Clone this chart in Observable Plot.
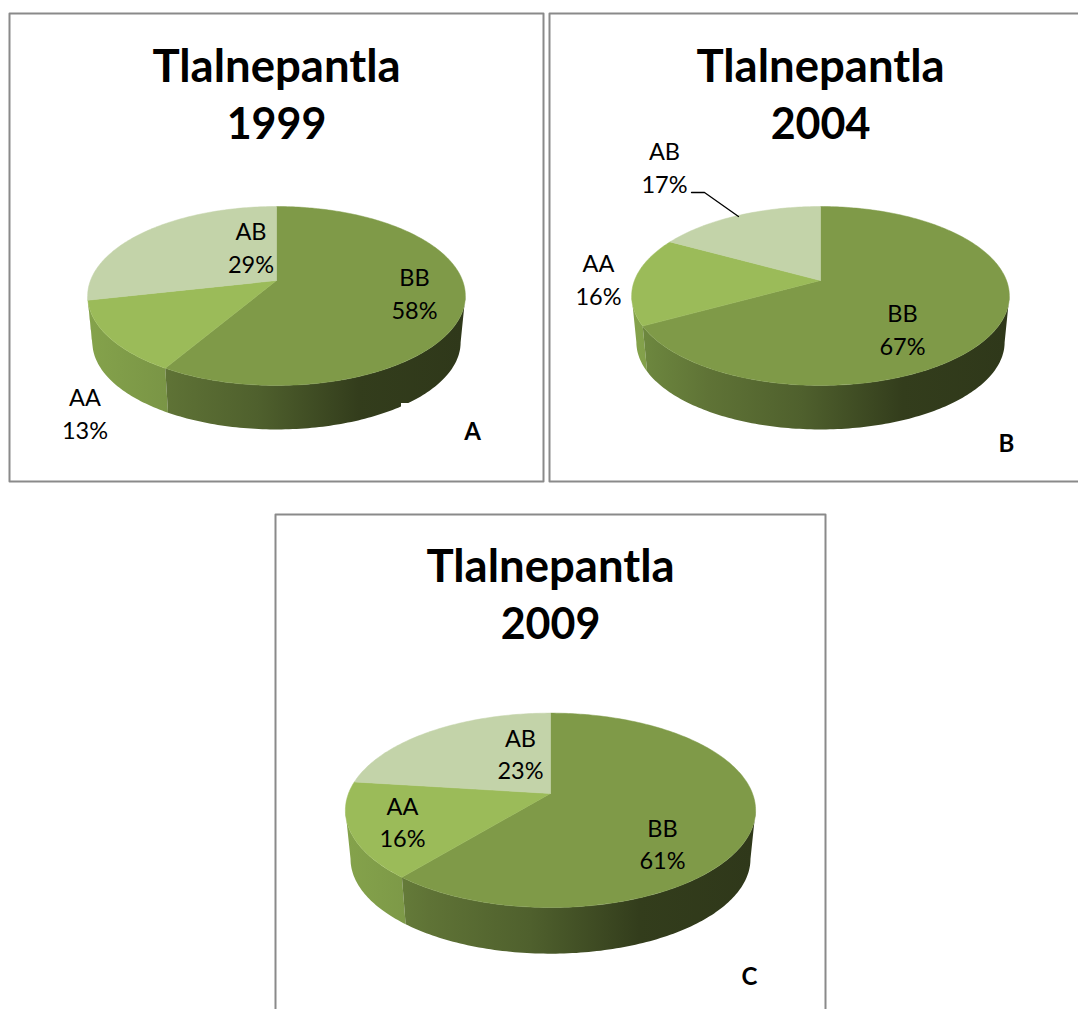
<!DOCTYPE html>
<html>
<head>
<meta charset="utf-8">
<script src="https://cdn.jsdelivr.net/npm/d3@7"></script>
<script src="https://cdn.jsdelivr.net/npm/@observablehq/plot@0.6"></script>
<style>
html,body{margin:0;padding:0;background:#fff;overflow:hidden}
svg{display:block}
</style>
</head>
<body>
<div id="chart"></div>
<script>
// ---- data ----
const place = "Tlalnepantla";
const years = [1999, 2004, 2009];
const letters = ["A", "B", "C"];
const categories = ["BB", "AA", "AB"];
const labels1999 = [58, 13, 29];
const labels2004 = [67, 16, 17];
const labels2009 = [61, 16, 23];
const slices1999 = [58.5, 13, 28.5];
const slices2004 = [67, 16, 17];
const slices2009 = [61, 16, 23];
const topColors = ["#7f9a48", "#9bbb59", "#c3d3a9"];

// ---- layout of each panel ----
const centerX = [276, 820, 550];
const centerY = [280, 280, 793];
const radiusX = [186, 186, 202];
const radiusY = [86.8, 86.8, 94.3];
const depth = [46.6, 46.6, 49];
const tilt = 0.173;
const shrink = 0.975;
const titleX = [276, 820, 550];
const titleY = [[67, 125], [67, 125], [567, 625]];
const letterXY = [[472, 432], [1006, 444], [749, 977]];
const labelXY = [
  {BB: [414, 278, 311], AA: [84.5, 398, 431], AB: [250.5, 232, 265]},
  {BB: [902, 314, 347], AA: [598, 264, 297], AB: [664, 152, 185]},
  {BB: [662, 829, 861], AA: [402, 807, 839], AB: [520, 739, 771]}
];
const framePaths = [
  [[9, 481], [9, 13], [543, 13], [543, 481], [9, 481]],
  [[1078, 13], [549, 13], [549, 481], [1078, 481]],
  [[275, 1009], [275, 514], [825, 514], [825, 1009]]
];
const leader = [[691, 192], [704, 192], [738, 216]];
const notch = [{x1: 401, x2: 410, y1: 403, y2: 410}];

const allSlices = [slices1999, slices2004, slices2009];
const allLabels = [labels1999, labels2004, labels2009];

// rim point of pie p at fraction f (clockwise from 12 o'clock)
function rim(p, f, bottom) {
  const a = f * 2 * Math.PI, u = Math.sin(a), v = -Math.cos(a), w = 1 - tilt * v;
  const g = bottom ? shrink : 1;
  return [
    centerX[p] + g * radiusX[p] * u / w,
    centerY[p] + (bottom ? depth[p] : 0) + g * radiusY[p] * v / w
  ];
}
function fractions(f0, f1) {
  const n = Math.max(2, Math.ceil((f1 - f0) * 360));
  return d3.range(n + 1).map(i => f0 + (f1 - f0) * i / n);
}
const toXY = ([x, y]) => ({x, y});
// silhouette: the wall is only seen between the widest right and left rim points
const fRight = Math.acos(-tilt) / (2 * Math.PI), fLeft = 1 - fRight;

const wallMarks = [], faceMarks = [], textMarks = [];
allSlices.forEach((slices, p) => {
  let cum = 0;
  const spans = slices.map(s => { const t = [cum / 100, (cum + s) / 100]; cum += s; return t; });
  [2, 1, 0].forEach(i => {
    const f0 = Math.max(spans[i][0], fRight), f1 = Math.min(spans[i][1], fLeft);
    if (f1 <= f0) return;
    const fs = fractions(f0, f1);
    const pts = [...fs.map(f => rim(p, f, false)), ...fs.slice().reverse().map(f => rim(p, f, true))].map(toXY);
    const fill = `url(#wall-${Math.min(i, 1)}-${p})`;
    wallMarks.push(Plot.line(pts, {x: "x", y: "y", fill, stroke: "none"}));
  });
  spans.forEach(([f0, f1], i) => {
    const pts = [[centerX[p], centerY[p]], ...fractions(f0, f1).map(f => rim(p, f, false)), [centerX[p], centerY[p]]].map(toXY);
    faceMarks.push(Plot.line(pts, {x: "x", y: "y", fill: topColors[i], stroke: topColors[i], strokeWidth: 0.5}));
  });
  // texts
  const tf = {fontFamily: "Lato, sans-serif", fill: "#000", textAnchor: "middle", lineAnchor: "middle"};
  textMarks.push(Plot.text([place], {
    ...tf, x: titleX[p], y: titleY[p][0], text: d => d, fontSize: 45.5, fontWeight: 700
  }));
  textMarks.push(Plot.text([String(years[p])], {
    ...tf, x: titleX[p], y: titleY[p][1], text: d => d, fontSize: 43, fontWeight: 700
  }));
  categories.forEach((c, i) => {
    const [x, y1, y2] = labelXY[p][c];
    textMarks.push(Plot.text([c, allLabels[p][i] + "%"], {
      ...tf, x, y: (d, j) => (j ? y2 : y1), text: d => d, fontSize: 23.5
    }));
  });
  textMarks.push(Plot.text([letters[p]], {
    ...tf, x: letterXY[p][0], y: letterXY[p][1], text: d => d, fontSize: 24, fontWeight: 700
  }));
});

// gradients defined through the same scales
function gradients(index, {x}) {
  const defs = d3.create("svg:defs");
  allSlices.forEach((_, p) => {
    const x1 = x(centerX[p] - radiusX[p]), x2 = x(centerX[p] + radiusX[p]);
    const add = (id, stops) => {
      const g = defs.append("linearGradient").attr("id", id)
        .attr("gradientUnits", "userSpaceOnUse")
        .attr("x1", x1).attr("x2", x2).attr("y1", 0).attr("y2", 0);
      stops.forEach(([o, c]) => g.append("stop").attr("offset", o).attr("stop-color", c));
    };
    add(`wall-0-${p}`, [[0, "#6f8a40"], [0.2, "#5f7336"], [0.45, "#4f602d"], [0.72, "#333d1c"], [1, "#2f381a"]]);
    add(`wall-1-${p}`, [[0, "#84a24b"], [0.3, "#758f43"], [1, "#5f7336"]]);
  });
  return defs.node();
}

const framesData = framePaths.flatMap((path, k) => path.map(([x, y]) => ({x, y, k})));

const chart = Plot.plot({
  width: 1078,
  height: 1009,
  margin: 0,
  style: {background: "#fff"},
  x: {domain: [0, 1078], range: [0, 1078], axis: null},
  y: {domain: [0, 1009], range: [0, 1009], axis: null},
  marks: [
    gradients,
    Plot.line(framesData, {x: "x", y: "y", z: "k", stroke: "#8a8a8a", strokeWidth: 2}),
    ...wallMarks,
    Plot.rect(notch, {x1: "x1", x2: "x2", y1: "y1", y2: "y2", fill: "#fff"}),
    ...faceMarks,
    Plot.line(leader.map(toXY), {x: "x", y: "y", stroke: "#000", strokeWidth: 1.3}),
    ...textMarks
  ]
});
document.getElementById("chart").append(chart);
</script>
</body>
</html>
